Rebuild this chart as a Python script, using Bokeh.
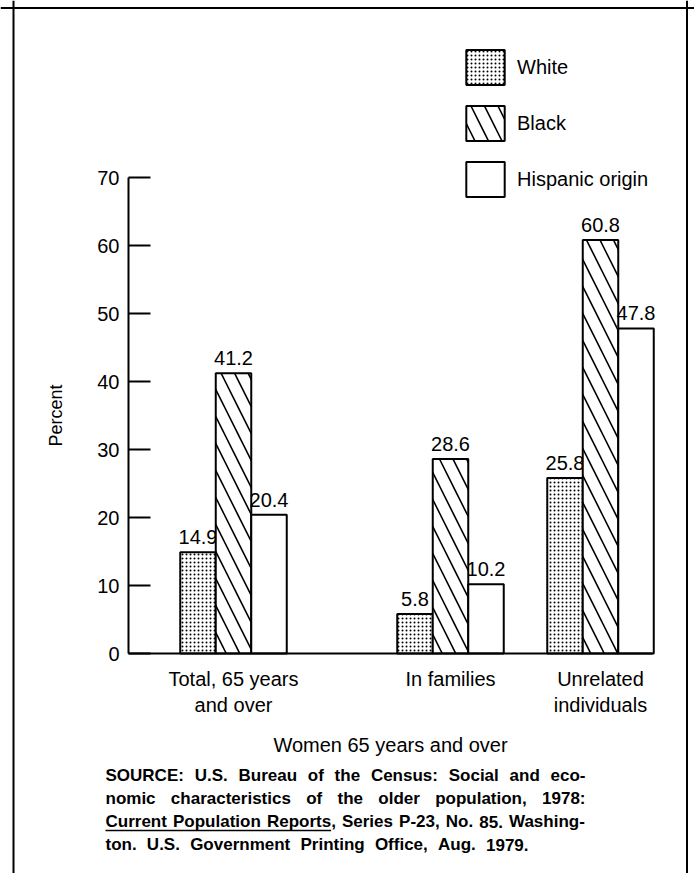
from bokeh.plotting import figure
from bokeh.models import Range1d, LinearAxis, FixedTicker, Span, Legend, LegendItem
from bokeh.core.properties import value
from bokeh.embed import file_html
from bokeh.resources import INLINE

# ---------------- data ----------------
categories = ["Total, 65 years\nand over", "In families", "Unrelated\nindividuals"]
series_names = ["White", "Black", "Hispanic origin"]
white = [14.9, 5.8, 25.8]
black = [41.2, 28.6, 60.8]
hispanic = [20.4, 10.2, 47.8]
y_ticks = [0, 10, 20, 30, 40, 50, 60, 70]
y_title = "Percent"
x_title = "Women 65 years and over"
source_lines = [
    "SOURCE: U.S. Bureau of the Census: Social and eco-",
    "nomic characteristics of the older population, 1978:",
    "Current Population Reports, Series P-23, No. 85. Washing-",
    "ton. U.S. Government Printing Office, Aug. 1979.",
]
underlined = "Current Population Reports"

# ---------------- layout (screen pixels) ----------------
W, H = 694, 873
ZERO_PY = 653          # screen y of value 0
PX_PER_UNIT = 6.8      # pixels per percent
AXIS_LEFT_PX = 128
AXIS_RIGHT_PX = 652
group_x = [233, 450, 600]
bar_w = 35.5
FONT = "Liberation Sans"


def yd(py):
    return (ZERO_PY - py) / PX_PER_UNIT


p = figure(width=W, height=H,
           x_range=Range1d(0, W),
           y_range=Range1d(yd(H), yd(0)),
           output_backend="svg", toolbar_location=None,
           x_axis_type=None, y_axis_type=None, min_border=0)
p.outline_line_color = None
p.background_fill_color = "white"
p.border_fill_color = "white"

# ---------------- page frame ----------------
for loc in (13, 686.5):
    p.add_layout(Span(location=loc, dimension="height", line_color="black", line_width=2))
p.add_layout(Span(location=yd(7.5), dimension="width", line_color="black", line_width=2))

# ---------------- bars ----------------
styles = [
    dict(hatch_pattern="dot", hatch_scale=4, hatch_weight=3),
    dict(hatch_pattern="left_diagonal_line", hatch_scale=27, hatch_weight=1.6),
    dict(),
]
series_vals = [white, black, hispanic]
renderers = []
for i, (vals, st) in enumerate(zip(series_vals, styles)):
    xs = [g + (i - 1) * bar_w for g in group_x]
    r = p.vbar(x=xs, top=vals, bottom=0, width=bar_w,
               fill_color="white", line_color="black", line_width=2,
               hatch_color="black", **st)
    renderers.append(r)
    p.text(x=xs, y=vals, text=[f"{v:.1f}" for v in vals],
           text_align="center", text_baseline="alphabetic", y_offset=-15,
           text_font=value(FONT), text_font_size="20px", text_color="black")

# ---------------- axes ----------------
yaxis = LinearAxis(fixed_location=AXIS_LEFT_PX, bounds=(0, 70),
                   ticker=FixedTicker(ticks=y_ticks))
yaxis.axis_line_width = 2
yaxis.major_tick_line_width = 2
yaxis.major_tick_in = 22
yaxis.major_tick_out = 0
yaxis.minor_tick_line_color = None
yaxis.major_label_standoff = 9
yaxis.major_label_text_font = FONT
yaxis.major_label_text_font_size = "20px"
yaxis.major_label_text_color = "black"
yaxis.axis_label = y_title
yaxis.axis_label_text_font = FONT
yaxis.axis_label_text_font_size = "18px"
yaxis.axis_label_text_font_style = "normal"
yaxis.axis_label_text_color = "black"
yaxis.axis_label_standoff = 28
p.add_layout(yaxis, "left")

xaxis = LinearAxis(fixed_location=0, bounds=(AXIS_LEFT_PX, AXIS_RIGHT_PX),
                   ticker=FixedTicker(ticks=group_x))
xaxis.major_label_overrides = {g: c for g, c in zip(group_x, categories)}
xaxis.axis_line_width = 2
xaxis.major_tick_in = 0
xaxis.major_tick_out = 0
xaxis.major_tick_line_color = None
xaxis.minor_tick_line_color = None
xaxis.major_label_standoff = 14
xaxis.major_label_text_font = FONT
xaxis.major_label_text_font_size = "20px"
xaxis.major_label_text_color = "black"
xaxis.axis_label = x_title
xaxis.axis_label_text_font = FONT
xaxis.axis_label_text_font_size = "20px"
xaxis.axis_label_text_font_style = "normal"
xaxis.axis_label_text_color = "black"
xaxis.axis_label_standoff = 15
p.add_layout(xaxis, "below")

# ---------------- legend ----------------
legend = Legend(items=[LegendItem(label=n, renderers=[r]) for n, r in zip(series_names, renderers)],
                location=(461, 672), orientation="vertical",
                glyph_width=48, glyph_height=44, spacing=12, padding=0, margin=0,
                label_standoff=8, label_text_font=FONT, label_text_font_size="20px",
                label_text_color="black", label_text_baseline="middle",
                border_line_color=None, background_fill_alpha=0)
p.add_layout(legend)

# ---------------- source note (justified) ----------------
BOLD_W = {' ': 278, ',': 278, '-': 333, '.': 278, ':': 333}
for ch in "0123456789":
    BOLD_W[ch] = 556
BOLD_W.update(dict(A=722, B=722, C=722, D=722, E=667, F=611, G=778, H=722, I=278, J=556, K=722,
                   L=611, M=833, N=722, O=778, P=667, Q=778, R=722, S=667, T=611, U=722, V=667,
                   W=944, X=667, Y=667, Z=611))
BOLD_W.update(dict(a=556, b=611, c=556, d=611, e=556, f=333, g=611, h=611, i=278, j=278, k=556,
                   l=278, m=889, n=611, o=611, p=611, q=611, r=389, s=556, t=333, u=611, v=556,
                   w=778, x=556, y=556, z=500))
SRC_SIZE = 17


def tw(s):
    return sum(BOLD_W.get(c, 556) for c in s) / 1000 * SRC_SIZE


src_left = 105
src_right = [585, 585, 585, 528]
src_py = [775, 798, 821, 844]
wx, wy, wt = [], [], []
for line, right, py in zip(source_lines, src_right, src_py):
    words = line.split(" ")
    widths = [tw(w) for w in words]
    gap = (right - src_left - sum(widths)) / (len(words) - 1)
    x = src_left
    for w, wdt in zip(words, widths):
        wx.append(x)
        wy.append(yd(py))
        wt.append(w)
        x += wdt + gap
    if line.startswith(underlined):
        uw = underlined.split(" ")
        x_end = src_left + sum(tw(w) for w in uw) + gap * (len(uw) - 1)
        p.segment(x0=[src_left], y0=[yd(py + 9)], x1=[x_end], y1=[yd(py + 9)],
                  line_color="black", line_width=1.5)
p.text(x=wx, y=wy, text=wt, text_align="left", text_baseline="middle",
       text_font=value(FONT), text_font_style="bold", text_font_size=f"{SRC_SIZE}px",
       text_color="black")

open("out.html", "w").write(file_html(p, INLINE))
